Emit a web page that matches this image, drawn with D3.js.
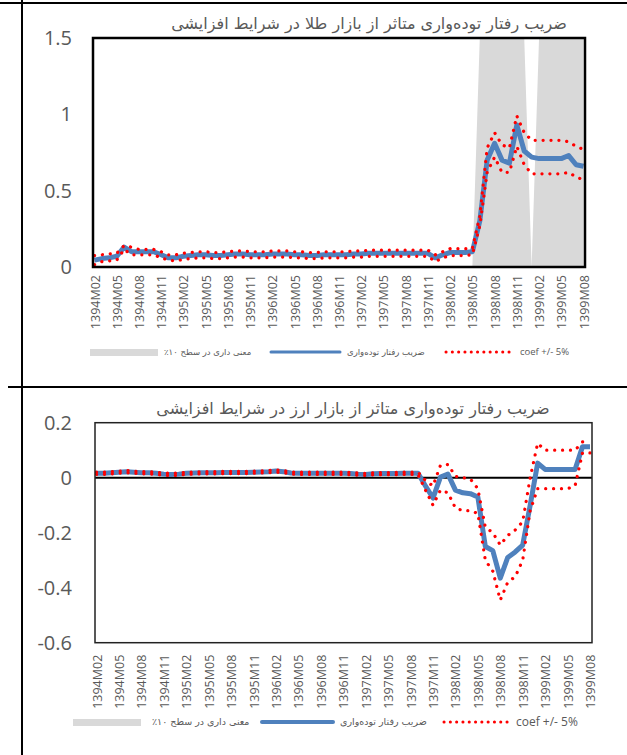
<!DOCTYPE html>
<html>
<head>
<meta charset="utf-8">
<script src="https://cdn.jsdelivr.net/npm/d3@7"></script>
<style>
  body { margin: 0; background: #fff; }
  svg { display: block; }
</style>
</head>
<body>
<div id="chart"></div>
<script>
// categories: monthly, 1394M02 .. 1399M08
var months = [
  "1394M02", "1394M03", "1394M04", "1394M05", "1394M06", "1394M07", "1394M08", "1394M09", "1394M10", "1394M11", "1394M12",
  "1395M01", "1395M02", "1395M03", "1395M04", "1395M05", "1395M06", "1395M07", "1395M08", "1395M09", "1395M10", "1395M11", "1395M12",
  "1396M01", "1396M02", "1396M03", "1396M04", "1396M05", "1396M06", "1396M07", "1396M08", "1396M09", "1396M10", "1396M11", "1396M12",
  "1397M01", "1397M02", "1397M03", "1397M04", "1397M05", "1397M06", "1397M07", "1397M08", "1397M09", "1397M10", "1397M11", "1397M12",
  "1398M01", "1398M02", "1398M03", "1398M04", "1398M05", "1398M06", "1398M07", "1398M08", "1398M09", "1398M10", "1398M11", "1398M12",
  "1399M01", "1399M02", "1399M03", "1399M04", "1399M05", "1399M06", "1399M07", "1399M08"
];
var tickMonths = [
  "1394M02", "1394M05", "1394M08", "1394M11", "1395M02", "1395M05", "1395M08", "1395M11",
  "1396M02", "1396M05", "1396M08", "1396M11", "1397M02", "1397M05", "1397M08", "1397M11",
  "1398M02", "1398M05", "1398M08", "1398M11", "1399M02", "1399M05", "1399M08"
];

// gold market panel
var goldSig = [
  0, 0, 0, 0, 0, 0, 0, 0, 0, 0, 0, 0, 0, 0, 0, 0, 0, 0, 0, 0, 0, 0, 0, 0, 0, 0, 0, 0, 0, 0,
  0, 0, 0, 0, 0, 0, 0, 0, 0, 0, 0, 0, 0, 0, 0, 0, 0, 0, 0, 0, 0, 0,
  1.5, 1.5, 1.5, 1.5, 1.5, 1.5, 1.5, 0, 1.5, 1.5, 1.5, 1.5, 1.5, 1.5, 1.5
];
var goldCoef = [
  0.045, 0.055, 0.06, 0.07, 0.13, 0.1, 0.1, 0.1, 0.1, 0.08, 0.06, 0.06, 0.07, 0.075, 0.08, 0.08, 0.075, 0.075, 0.08, 0.085,
  0.085, 0.08, 0.08, 0.08, 0.085, 0.085, 0.085, 0.08, 0.08, 0.075, 0.075, 0.08, 0.08, 0.08, 0.08, 0.085, 0.085, 0.09, 0.09, 0.09,
  0.09, 0.09, 0.09, 0.09, 0.09, 0.09, 0.06, 0.08, 0.095, 0.095, 0.095, 0.1, 0.3, 0.7, 0.81, 0.7, 0.68, 0.93, 0.76, 0.72,
  0.71, 0.71, 0.71, 0.71, 0.73, 0.67, 0.66
];
var goldUpper = [
  0.075, 0.08, 0.085, 0.09, 0.14, 0.13, 0.115, 0.115, 0.115, 0.1, 0.08, 0.08, 0.09, 0.095, 0.1, 0.1, 0.095, 0.095, 0.1, 0.105,
  0.105, 0.1, 0.1, 0.1, 0.105, 0.105, 0.105, 0.1, 0.1, 0.095, 0.095, 0.1, 0.1, 0.1, 0.1, 0.105, 0.105, 0.11, 0.11, 0.11,
  0.11, 0.11, 0.11, 0.11, 0.11, 0.11, 0.08, 0.1, 0.12, 0.12, 0.12, 0.12, 0.33, 0.78, 0.88, 0.8, 0.78, 0.99, 0.88, 0.83,
  0.83, 0.83, 0.83, 0.83, 0.82, 0.79, 0.77
];
var goldLower = [
  0.015, 0.035, 0.04, 0.045, 0.115, 0.08, 0.08, 0.08, 0.08, 0.06, 0.045, 0.04, 0.05, 0.055, 0.06, 0.06, 0.055, 0.055, 0.06, 0.065,
  0.065, 0.06, 0.06, 0.06, 0.065, 0.065, 0.065, 0.06, 0.06, 0.055, 0.055, 0.06, 0.06, 0.06, 0.06, 0.065, 0.065, 0.07, 0.07, 0.07,
  0.07, 0.07, 0.07, 0.07, 0.07, 0.07, 0.035, 0.06, 0.075, 0.075, 0.075, 0.08, 0.27, 0.62, 0.72, 0.62, 0.62, 0.79, 0.67, 0.61,
  0.61, 0.61, 0.61, 0.61, 0.62, 0.59, 0.57
];

// fx market panel
var fxSig = [
  0, 0, 0, 0, 0, 0, 0, 0, 0, 0, 0, 0, 0, 0, 0, 0, 0, 0, 0, 0, 0, 0, 0, 0, 0, 0, 0, 0, 0, 0,
  0, 0, 0, 0, 0, 0, 0, 0, 0, 0, 0, 0, 0, 0, 0, 0, 0, 0, 0, 0, 0, 0, 0, 0, 0, 0, 0, 0, 0, 0,
  0, 0, 0, 0, 0, 0, 0
];
var fxCoef = [
  0.016, 0.016, 0.018, 0.02, 0.022, 0.02, 0.018, 0.018, 0.016, 0.013, 0.012, 0.013, 0.016, 0.017, 0.018, 0.018, 0.018, 0.019, 0.019, 0.019,
  0.019, 0.02, 0.021, 0.022, 0.024, 0.022, 0.017, 0.016, 0.016, 0.016, 0.016, 0.016, 0.016, 0.016, 0.015, 0.013, 0.012, 0.014, 0.015, 0.015,
  0.015, 0.016, 0.016, 0.016, -0.03, -0.074, 0.002, 0.013, -0.045, -0.055, -0.058, -0.07, -0.25, -0.265, -0.365, -0.29, -0.27, -0.245, -0.1, 0.053,
  0.03, 0.03, 0.03, 0.03, 0.03, 0.113, 0.113
];
var fxUpper = [
  0.02, 0.02, 0.022, 0.024, 0.026, 0.024, 0.022, 0.022, 0.02, 0.017, 0.016, 0.017, 0.02, 0.021, 0.022, 0.022, 0.022, 0.023, 0.023, 0.023,
  0.023, 0.024, 0.025, 0.026, 0.028, 0.026, 0.021, 0.02, 0.02, 0.02, 0.02, 0.02, 0.02, 0.02, 0.019, 0.017, 0.016, 0.018, 0.019, 0.019,
  0.019, 0.02, 0.02, 0.02, -0.01, -0.03, 0.045, 0.048, 0.005, 0.0, -0.005, -0.04, -0.18, -0.2, -0.245, -0.21, -0.19, -0.16, 0.0, 0.125,
  0.1, 0.1, 0.1, 0.1, 0.1, 0.13, 0.135
];
var fxLower = [
  0.012, 0.012, 0.014, 0.016, 0.018, 0.016, 0.014, 0.014, 0.012, 0.009, 0.008, 0.009, 0.012, 0.013, 0.014, 0.014, 0.014, 0.015, 0.015, 0.015,
  0.015, 0.016, 0.017, 0.018, 0.02, 0.018, 0.013, 0.012, 0.012, 0.012, 0.012, 0.012, 0.012, 0.012, 0.011, 0.009, 0.008, 0.01, 0.011, 0.011,
  0.011, 0.012, 0.012, 0.012, -0.045, -0.1, -0.045, -0.055, -0.11, -0.12, -0.12, -0.13, -0.3, -0.34, -0.445, -0.38, -0.36, -0.3, -0.12, -0.04,
  -0.04, -0.04, -0.04, -0.04, -0.03, 0.09, 0.09
];

var goldTicks = [0, 0.5, 1, 1.5];
var fxTicks = [0.2, 0, -0.2, -0.4, -0.6];
var goldTitle = "ضریب رفتار توده‌واری متاثر از بازار طلا در شرایط افزایشی";
var fxTitle = "ضریب رفتار توده‌واری متاثر از بازار ارز در شرایط افزایشی";
var legendLabels = ["معنی داری در سطح ۱۰٪", "ضریب رفتار توده‌واری", "coef +/- 5%"];

var grey = "#595959";
var blue = "#4f81bd";
var red = "#ff0000";

var svg = d3.select("#chart").append("svg")
  .attr("width", 627).attr("height", 755)
  .style("background", "#fff");

// table frame around the two panels
svg.append("line").attr("x1", 0).attr("x2", 627).attr("y1", 3).attr("y2", 3).attr("stroke", "#000").attr("stroke-width", 2);
svg.append("line").attr("x1", 8).attr("x2", 627).attr("y1", 387).attr("y2", 387).attr("stroke", "#000").attr("stroke-width", 2);
svg.append("line").attr("x1", 22).attr("x2", 22).attr("y1", 0).attr("y2", 755).attr("stroke", "#000").attr("stroke-width", 2);

function drawPanel(p) {
  var x = d3.scalePoint().domain(months).range([p.x0, p.x1]);
  var y = d3.scaleLinear().domain(p.domain).range([p.bottom, p.top]);

  var rows = months.map(function (m, i) {
    return { m: m, sig: p.sig[i], coef: p.coef[i], up: p.upper[i], lo: p.lower[i] };
  });

  svg.append("clipPath").attr("id", p.id + "-clip")
    .append("rect").attr("x", p.left).attr("y", p.top).attr("width", p.right - p.left).attr("height", p.bottom - p.top);

  var g = svg.append("g").attr("clip-path", "url(#" + p.id + "-clip)");

  // significance shading
  g.append("path").datum(rows)
    .attr("fill", "#d9d9d9")
    .attr("d", d3.area()
      .x(function (d) { return x(d.m); })
      .y0(y(0))
      .y1(function (d) { return y(d.sig); }));

  if (p.zeroLine) {
    g.append("line").attr("x1", p.left).attr("x2", p.right)
      .attr("y1", y(0)).attr("y2", y(0))
      .attr("stroke", "#000").attr("stroke-width", 2);
  }

  g.append("path").datum(rows)
    .attr("fill", "none").attr("stroke", blue).attr("stroke-width", 5)
    .attr("stroke-linejoin", "round")
    .attr("d", d3.line().x(function (d) { return x(d.m); }).y(function (d) { return y(d.coef); }));

  ["up", "lo"].forEach(function (k) {
    g.append("path").datum(rows)
      .attr("fill", "none").attr("stroke", red).attr("stroke-width", 3.2)
      .attr("stroke-linecap", "round").attr("stroke-dasharray", "0.1 7.8")
      .attr("d", d3.line().x(function (d) { return x(d.m); }).y(function (d) { return y(d[k]); }));
  });

  // plot frame
  svg.append("rect")
    .attr("x", p.left).attr("y", p.top)
    .attr("width", p.right - p.left).attr("height", p.bottom - p.top)
    .attr("fill", "none").attr("stroke", p.frameColor).attr("stroke-width", p.frameWidth);

  // y axis
  var ya = svg.append("g").attr("transform", "translate(" + p.left + ",0)")
    .call(d3.axisLeft(y).tickValues(p.ticks).tickSize(0).tickPadding(p.left - p.labelRight)
      .tickFormat(function (d) { return String(d); }));
  ya.select(".domain").remove();
  ya.selectAll("text").attr("fill", grey)
    .style("font-family", "'Open Sans', sans-serif").style("font-size", "20px");

  // x axis
  var xa = svg.append("g").attr("transform", "translate(0," + p.bottom + ")")
    .call(d3.axisBottom(x).tickValues(tickMonths).tickSize(0));
  xa.select(".domain").remove();
  xa.selectAll("text")
    .attr("transform", "rotate(-90)")
    .attr("text-anchor", "end")
    .attr("x", -p.labelGap).attr("y", 0).attr("dy", "0.36em")
    .attr("fill", grey)
    .style("font-family", "'Open Sans', sans-serif").style("font-size", "12.5px");

  // title
  svg.append("text").text(p.title)
    .attr("x", p.titleX).attr("y", p.titleY)
    .attr("text-anchor", "middle").attr("direction", "rtl")
    .attr("fill", grey)
    .style("font-family", "'DejaVu Sans', sans-serif").style("font-size", p.titleSize + "px");

  // legend
  var L = p.legend;
  svg.append("rect").attr("x", L.sig[0]).attr("y", L.y - 3).attr("width", L.sig[1] - L.sig[0]).attr("height", 7).attr("fill", "#d9d9d9");
  svg.append("line").attr("x1", L.line[0]).attr("x2", L.line[1]).attr("y1", L.y).attr("y2", L.y)
    .attr("stroke", blue).attr("stroke-width", L.lineWidth).attr("stroke-linecap", "round");
  svg.append("line").attr("x1", L.dots[0]).attr("x2", L.dots[1]).attr("y1", L.y).attr("y2", L.y)
    .attr("stroke", red).attr("stroke-width", 3).attr("stroke-linecap", "round").attr("stroke-dasharray", "0.1 6.2");
  legendLabels.forEach(function (label, i) {
    var rtl = i < 2;
    svg.append("text").text(label)
      .attr("x", L.text[i]).attr("y", L.y).attr("dy", "0.35em")
      // in rtl text "end" is the left edge
      .attr("text-anchor", rtl ? "end" : "start")
      .attr("direction", rtl ? "rtl" : "ltr")
      .attr("fill", grey)
      .style("font-family", rtl ? "'DejaVu Sans', sans-serif" : "'Open Sans', sans-serif")
      .style("font-size", (rtl ? L.faSize : L.enSize) + "px");
  });
}

drawPanel({
  id: "gold", title: goldTitle, titleX: 369, titleY: 29, titleSize: 16,
  sig: goldSig, coef: goldCoef, upper: goldUpper, lower: goldLower,
  domain: [0, 1.5], ticks: goldTicks,
  left: 93, right: 585, top: 38, bottom: 267, x0: 94.5, x1: 583.5,
  frameColor: "#000", frameWidth: 2.5, zeroLine: false,
  labelRight: 72, labelGap: 8,
  legend: { y: 352, sig: [90, 158], line: [271, 340], dots: [446, 510], text: [164, 347, 520], lineWidth: 3, faSize: 8.5, enSize: 9.5 }
});

drawPanel({
  id: "fx", title: fxTitle, titleX: 353, titleY: 414, titleSize: 16,
  sig: fxSig, coef: fxCoef, upper: fxUpper, lower: fxLower,
  domain: [-0.6, 0.2], ticks: fxTicks,
  left: 95, right: 592, top: 422.7, bottom: 642.7, x0: 96.5, x1: 590,
  frameColor: "#222", frameWidth: 1.5, zeroLine: true,
  labelRight: 72, labelGap: 12,
  legend: { y: 722, sig: [73, 141], line: [262, 333], dots: [444, 510], text: [152, 340, 516], lineWidth: 4, faSize: 9.5, enSize: 12 }
});
</script>
</body>
</html>
